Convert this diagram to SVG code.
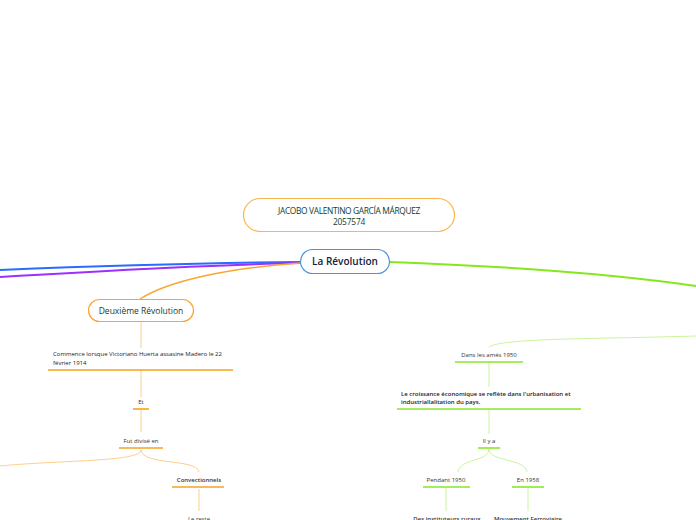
<svg xmlns="http://www.w3.org/2000/svg" width="696" height="520" viewBox="0 0 696 520">
<style>
text{font-family:"Open Sans","Liberation Sans",sans-serif;}
.t{font-size:6px;fill:#333;text-anchor:middle;}
.tl{font-size:6px;fill:#222;}
.b{font-weight:600;}
.uo{stroke:#f7a21e;stroke-width:1.6;fill:none;}
.ug{stroke:#8ae62a;stroke-width:1.6;fill:none;}
.co{stroke:#fdcf8a;stroke-width:1;fill:none;}
.cg{stroke:#c9f59c;stroke-width:1;fill:none;}
</style>
<rect width="696" height="520" fill="#fff"/>
<g id="connectors">
<path d="M300,262 C200,263 100,266 0,270" stroke="#2b6cff" stroke-width="2" fill="none"/>
<path d="M300,263 C200,265 100,271 0,277" stroke="#9b30ff" stroke-width="2" fill="none"/>
<path d="M300,263 C230,268 170,280 140,299" stroke="#f9a530" stroke-width="1.4" fill="none"/>
<path d="M390,262 C500,266 600,272 696,286" stroke="#84e81c" stroke-width="2" fill="none"/>
<path d="M696,336 C600,339 500,338 489,347" class="cg"/>
<path d="M141,322 V348" class="co"/>
<path d="M141,370 V397" class="co"/>
<path d="M141,409 V432" class="co"/>
<path d="M141,450 C141,462 60,460 0,466" class="co"/>
<path d="M141,450 C143,466 196,458 199,472" class="co"/>
<path d="M199,489 V511" class="co"/>
<path d="M489,362 V387" class="cg"/>
<path d="M489,409 V434" class="cg"/>
<path d="M489,449 C489,462 460,458 458,472" class="cg"/>
<path d="M489,449 C489,462 525,458 527,472" class="cg"/>
<path d="M446,488 V511" class="cg"/>
<path d="M528,488 V511" class="cg"/>
</g>
<g id="title">
<rect x="243.5" y="198.5" width="211" height="33" rx="16.5" fill="#fff" stroke="#fbb54e" stroke-width="1.2"/>
<text x="349" y="214" font-size="8.4" fill="#123d30" text-anchor="middle" letter-spacing="-0.35">JACOBO VALENTINO GARCÍA MÁRQUEZ</text>
<text x="349" y="225" font-size="8.4" fill="#123d30" text-anchor="middle" letter-spacing="-0.2">2057574</text>
</g>
<g id="central">
<rect x="300.5" y="249.5" width="89" height="24" rx="12" fill="#fff" stroke="#4a96dc" stroke-width="1.2"/>
<text x="345" y="265" font-size="10" font-weight="600" fill="#14213d" text-anchor="middle">La Révolution</text>
</g>
<g id="deuxieme">
<rect x="88.5" y="299.5" width="105" height="22" rx="11" fill="#fff" stroke="#f9a530" stroke-width="1.2"/>
<text x="141" y="313.5" font-size="8.5" font-weight="500" fill="#123d30" text-anchor="middle">Deuxième Révolution</text>
</g>
<g id="commence">
<text x="53" y="356" class="tl">Commence lorsque Victoriano Huerta assasine Madero le 22</text>
<text x="53" y="365" class="tl">février 1914</text>
<path d="M48,370 H233" class="uo"/>
</g>
<g id="et">
<text x="141" y="404" class="t">Et</text>
<path d="M133,409 H149" class="uo"/>
</g>
<g id="fut">
<text x="141" y="443" class="t">Fut divisé en</text>
<path d="M119,448 H163" class="uo"/>
</g>
<g id="convectionnels">
<text x="199" y="482" class="t b">Convectionnels</text>
<path d="M172,487 H224" class="uo"/>
</g>
<g id="lereste">
<text x="199" y="520.5" class="t">Le reste</text>
</g>
<g id="dans">
<text x="489" y="357" class="t">Dans les amés 1950</text>
<path d="M455,362 H523" class="ug"/>
</g>
<g id="croissance">
<text x="401" y="396" class="tl b">Le croissance économique se reflète dans l'urbanisation et</text>
<text x="401" y="404" class="tl b">industriallalitation du pays.</text>
<path d="M397,409 H581" class="ug"/>
</g>
<g id="ilya">
<text x="489" y="443" class="t">Il y a</text>
<path d="M478,448 H500" class="ug"/>
</g>
<g id="pendant">
<text x="446" y="482" class="t">Pendant 1950</text>
<path d="M423,487 H470" class="ug"/>
</g>
<g id="en1958">
<text x="528" y="482" class="t">En 1958</text>
<path d="M512,487 H544" class="ug"/>
</g>
<g id="instituteurs">
<text x="447" y="520.5" class="t b">Des instituteurs ruraux</text>
</g>
<g id="ferroviaire">
<text x="528" y="520.5" class="t b">Mouvement Ferroviaire</text>
</g>
</svg>
